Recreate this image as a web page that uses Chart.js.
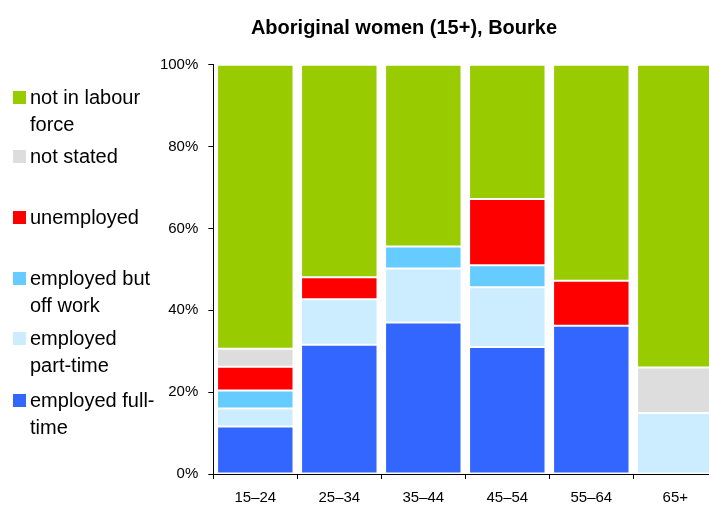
<!DOCTYPE html>
<html>
<head>
<meta charset="utf-8">
<script src="https://cdn.jsdelivr.net/npm/chart.js@4.4.1/dist/chart.umd.min.js"></script>
<style>
  body { margin: 0; background: #fff; }
  #wrap { position: relative; width: 709px; height: 506px; overflow: hidden; font-family: "Liberation Sans", Arial, sans-serif; }
  #box { position: absolute; left: 0; top: 0; width: 720px; height: 506px; }
  #title { position: absolute; left: 404px; top: 15px; transform: translateX(-50%); font-size: 20px; font-weight: bold; line-height: 24px; white-space: nowrap; color: #000; }
  .item { position: absolute; left: 30px; font-size: 20px; line-height: 26.5px; color: #000; white-space: nowrap; }
  .sw { position: absolute; left: 13px; width: 13px; height: 13px; }
</style>
</head>
<body>
<div id="wrap">
  <div id="box"><canvas id="myChart" width="720" height="506"></canvas></div>
  <div id="title">Aboriginal women (15+), Bourke</div>
  <div id="legend"></div>
</div>
<script>

var ageGroups = ["15\u201324", "25\u201334", "35\u201344", "45\u201354", "55\u201364", "65+"];

// percent of women in each age group, bottom of the stack first
var fullTime   = [11.6, 31.6, 37.0, 31.0, 36.2, 0];
var partTime   = [4.4, 11.1, 13.2, 14.6, 0, 14.9];
var offWork    = [4.4, 0, 5.4, 5.4, 0, 0];
var unemployed = [5.8, 5.4, 0, 16.2, 11.0, 0];
var notStated  = [4.4, 0, 0, 0, 0, 11.1];
var notInLabour = [69.4, 51.9, 44.4, 32.8, 52.8, 74.0];

var yTicks = [0, 20, 40, 60, 80, 100];

var series = [
    { lines: ["employed full-", "time"], data: fullTime, color: "#3366FF", legendTop: 387 },
    { lines: ["employed", "part-time"], data: partTime, color: "#CCECFF", legendTop: 325 },
    { lines: ["employed but", "off work"], data: offWork, color: "#66CCFF", legendTop: 265 },
    { lines: ["unemployed"], data: unemployed, color: "#FF0000", legendTop: 204 },
    { lines: ["not stated"], data: notStated, color: "#DDDDDD", legendTop: 143 },
    { lines: ["not in labour", "force"], data: notInLabour, color: "#99CC00", legendTop: 84 }
];

function joinLines(lines) {
    var s = "";
    for (var i = 0; i < lines.length; i++) {
        if (i > 0 && s.charAt(s.length - 1) !== "-") s += " ";
        s += lines[i];
    }
    return s;
}

var datasets = [];
for (var i = 0; i < series.length; i++) {
    datasets.push({
        label: joinLines(series[i].lines),
        data: series[i].data,
        backgroundColor: series[i].color,
        borderColor: "rgba(255,255,255,0.2)",
        borderWidth: 1,
        borderSkipped: false,
        categoryPercentage: 1.0,
        barPercentage: 0.91
    });
}

// legend on the left, drawn as text
var legend = document.getElementById("legend");
for (var i = 0; i < series.length; i++) {
    var sw = document.createElement("div");
    sw.className = "sw";
    sw.style.top = (series[i].legendTop + 6.5) + "px";
    sw.style.background = series[i].color;
    legend.appendChild(sw);

    var item = document.createElement("div");
    item.className = "item";
    item.style.top = series[i].legendTop + "px";
    item.innerHTML = series[i].lines.join("<br>");
    legend.appendChild(item);
}

var ctx = document.getElementById("myChart");

var chart = new Chart(ctx, {
    type: "bar",
    data: {
        labels: ageGroups,
        datasets: datasets
    },
    options: {
        responsive: false,
        animation: false,
        layout: {
            padding: { top: 64.7, right: 2.7, bottom: 0, left: 0 }
        },
        plugins: {
            legend: { display: false },
            title: { display: false },
            tooltip: { enabled: false }
        },
        scales: {
            x: {
                stacked: true,
                afterFit: function (scale) { scale.height = 32; },
                grid: { drawOnChartArea: false, tickLength: 5, color: "#000" },
                border: { color: "#000", width: 1 },
                ticks: {
                    color: "#000",
                    padding: 10,
                    font: { family: "Liberation Sans", size: 15 }
                }
            },
            y: {
                stacked: true,
                min: 0,
                max: 100,
                afterFit: function (scale) { scale.width = 213.3; },
                afterBuildTicks: function (scale) {
                    scale.ticks = yTicks.map(function (v) { return { value: v }; });
                },
                grid: { drawOnChartArea: false, tickLength: 5, color: "#000" },
                border: { color: "#000", width: 1 },
                ticks: {
                    color: "#000",
                    padding: 10,
                    font: { family: "Liberation Sans", size: 15 },
                    callback: function (v) { return v + "%"; }
                }
            }
        }
    }
});

</script>
</body>
</html>
